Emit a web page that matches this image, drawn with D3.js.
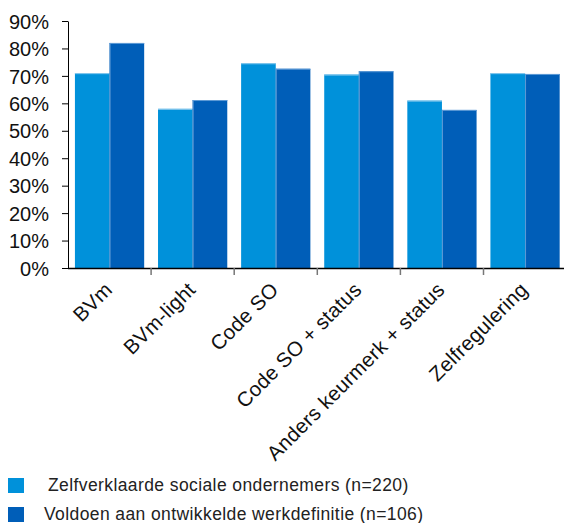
<!DOCTYPE html>
<html><head><meta charset="utf-8">
<script src="https://cdn.jsdelivr.net/npm/d3@7"></script>
<style>body{margin:0;background:#fff}svg{display:block}text{font-family:"Liberation Sans",Arial,sans-serif}</style>
</head><body>
<svg id="c" width="564" height="523"></svg>
<script>
const categories = ["BVm","BVm-light","Code SO","Code SO + status","Anders keurmerk + status","Zelfregulering"];
const seriesNames = ["Zelfverklaarde sociale ondernemers (n=220)","Voldoen aan ontwikkelde werkdefinitie (n=106)"];
const series1 = [71, 58, 74.6, 70.5, 61, 71];
const series2 = [82, 61.2, 72.6, 71.7, 57.6, 70.7];
const yTicks = [0,10,20,30,40,50,60,70,80,90];
const colors = ["#0091DA","#005EB8"];
const edgeColors = ["#8fcbee","#5f9bd6"];

const svg = d3.select("#c");
const mLeft = 68, mTop = 21, mBottom = 268, step = 83.1;
const x0 = d3.scaleBand().domain(categories).range([mLeft, mLeft + step*categories.length]).padding(0);
const x1 = d3.scaleBand().domain([0,1]).range([0, x0.bandwidth()]).paddingOuter(0.2).paddingInner(0);
const y = d3.scaleLinear().domain([0,90]).range([mBottom, mTop]);

const data = categories.map((c,i)=>({c, v:[series1[i], series2[i]]}));
const g = svg.append("g");
data.forEach(d=>{
  d.v.forEach((v,j)=>{
    const bx = x0(d.c)+x1(j), bw = x1.bandwidth();
    g.append("rect").attr("x",bx).attr("y",y(v)).attr("width",bw).attr("height",mBottom-y(v)).attr("fill",colors[j]);
    g.append("line").attr("x1",bx).attr("x2",bx+bw).attr("y1",y(v)+0.5).attr("y2",y(v)+0.5).attr("stroke",edgeColors[j]).attr("stroke-width",1);
    if(j===1) g.append("line").attr("x1",bx+0.5).attr("x2",bx+0.5).attr("y1",y(v)).attr("y2",mBottom).attr("stroke",edgeColors[j]).attr("stroke-width",1);
  });
});

// y axis
const ya = svg.append("g").attr("transform",`translate(${mLeft},0)`)
  .call(d3.axisLeft(y).tickValues(yTicks).tickFormat(d=>d+"%").tickSize(6).tickSizeOuter(0));
ya.select(".domain").attr("stroke","#000");
ya.selectAll(".tick line").attr("stroke","#000");
ya.selectAll(".tick text").attr("font-size",20).attr("fill","#111").attr("x",-19).attr("dy","0.36em");

// x axis
const boundaries = d3.range(categories.length+1).map(i=>mLeft+i*x0.step());
svg.append("line").attr("x1",mLeft).attr("x2",564).attr("y1",mBottom+0.5).attr("y2",mBottom+0.5).attr("stroke","#000").attr("stroke-width",1.5);
svg.selectAll(".xt").data(boundaries.slice(1)).join("line").attr("class","xt")
  .attr("x1",d=>d).attr("x2",d=>d).attr("y1",mBottom).attr("y2",mBottom+7).attr("stroke","#777").attr("stroke-width",1.5);
svg.selectAll(".xl").data(categories).join("text").attr("class","xl")
  .attr("transform",d=>`translate(${x0(d)+x0.bandwidth()/2+4},291) rotate(-45)`)
  .attr("text-anchor","end").attr("font-size",20.5).attr("letter-spacing",0.3).attr("fill","#111").text(d=>d);

// legend
const leg = svg.selectAll(".lg").data(seriesNames).join("g").attr("class","lg")
  .attr("transform",(d,i)=>`translate(0,${478+i*29})`);
leg.append("rect").attr("x",8).attr("y",0).attr("width",16).attr("height",15).attr("fill",(d,i)=>colors[i]);
leg.append("text").attr("x",(d,i)=>i===0?48:44).attr("y",13).attr("font-size",17.5).attr("letter-spacing",0.4).attr("fill","#222").text(d=>d);
</script>
</body></html>
